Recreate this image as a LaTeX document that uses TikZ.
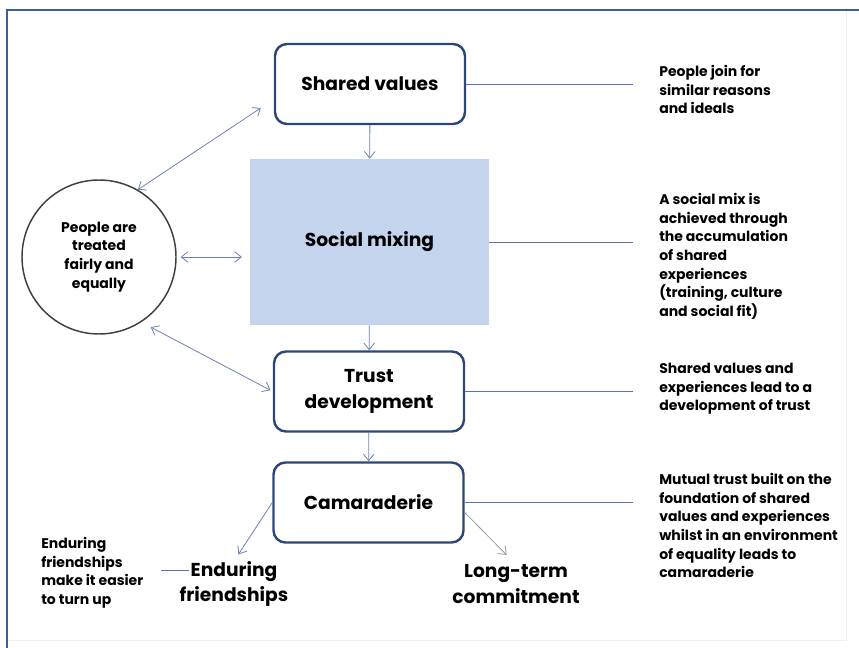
\documentclass[tikz,border=0pt]{standalone}
\usepackage{fontspec}
\setmainfont{Poppins}
\usetikzlibrary{arrows.meta, calc, positioning}
\definecolor{FrameBlue}{RGB}{62, 92, 152}
\definecolor{BoxNavy}{RGB}{45, 70, 120}
\definecolor{MixBlue}{RGB}{196, 212, 236}
\definecolor{ArrowBlue}{RGB}{108, 130, 182}
\definecolor{LinkBlue}{RGB}{88, 112, 192}

\begin{document}
\begin{tikzpicture}[
        x=0.75pt, y=-0.75pt,
        stagebox/.style = {draw=BoxNavy, line width=1.8pt, rounded corners=9pt, minimum width=142.5pt, minimum height=60pt, align=center, font=\fontsize{14}{19.5}\selectfont\bfseries},
        mixbox/.style = {fill=MixBlue, minimum width=179pt, minimum height=124.5pt, font=\fontsize{14}{19.5}\selectfont\bfseries},
        fairnode/.style = {circle, draw=black!75, line width=1.1pt, minimum size=115.5pt, align=center, font=\fontsize{10.5}{14}\selectfont\bfseries},
        notetext/.style = {anchor=north west, inner sep=0pt, align=left, font=\fontsize{10.5}{14}\selectfont\bfseries},
        outcome/.style = {inner sep=0pt, align=center, font=\fontsize{14}{19}\selectfont\bfseries},
        line/.style = {draw=ArrowBlue, line width=0.6pt, -{Straight Barb[length=5pt, width=8pt]}},
        biline/.style = {draw=ArrowBlue, line width=0.6pt, {Straight Barb[length=5pt, width=8pt]}-{Straight Barb[length=5pt, width=8pt]}},
        linkline/.style = {draw=LinkBlue, line width=0.6pt}
    ]
        \useasboundingbox (0,0) rectangle (859,648);

        % Frame
        \draw [black!6, line width=0.6pt] (846,10) -- (846,640) -- (7,640);
        \draw [FrameBlue, line width=1.6pt] (7,648) -- (7,10) -- (859,10);

        % Main stages
        \node (sv) [stagebox] at (370,84) {Shared values};
        \node (mix) [mixbox] at (369.5,242) {Social mixing};
        \node (trust) [stagebox] at (369,391.5) {Trust\\development};
        \node (cam) [stagebox] at (368.5,502.5) {Camaraderie};
        \node (fair) [fairnode] at (99,257) {People are\\treated\\fairly and\\equally};

        % Outcomes
        \node (endur) [outcome] at (234,584) {Enduring\\friendships};
        \node (longterm) [outcome] at (516,584) {Long-term\\commitment};

        % Notes
        \node (svnote) [notetext] at (659,65) {People join for\\similar reasons\\and ideals};
        \node (mixnote) [notetext] at (659,193) {A social mix is\\achieved through\\the accumulation\\of shared\\experiences\\(training, culture\\and social fit)};
        \node (trustnote) [notetext] at (659,363) {Shared values and\\experiences lead to a\\development of trust};
        \node (camnote) [notetext] at (659,473) {Mutual trust built on the\\foundation of shared\\values and experiences\\whilst in an environment\\of equality leads to\\camaraderie};
        \node (friendnote) [notetext] at (41,537) {Enduring\\friendships\\make it easier\\to turn up};

        % Flow
        \draw [line] (sv) -- (mix);
        \draw [line] (mix) -- (trust);
        \draw [line] (trust) -- (cam);
        \draw [line, shorten >=6pt] (cam.west) -- (endur.north);
        \draw [line, draw=black!40, shorten >=10pt] ($(cam.east)+(0,10)$) -- (longterm.north);

        % Equality links
        \draw [biline] (fair.60) -- ($(sv.west)+(-13,24)$);
        \draw [biline, shorten <=3pt, shorten >=6pt] (fair.east) -- (fair.east -| mix.west);
        \draw [biline, shorten <=8pt, shorten >=2pt] (fair.-57) -- (trust.west);

        % Note links
        \draw [linkline, shorten >=19.5pt] (sv.east) -- (sv.east -| svnote.west);
        \draw [linkline, shorten >=19.5pt] (mix.east) -- (mix.east -| mixnote.west);
        \draw [linkline, shorten >=19.5pt] (trust.east) -- (trust.east -| trustnote.west);
        \draw [linkline, shorten >=19.5pt] (cam.east) -- (cam.east -| camnote.west);
        \draw [linkline] ($(endur.west)+(-18,-14)$) -- ($(endur.west)+(10,-14)$);

    \end{tikzpicture}
\end{document}
